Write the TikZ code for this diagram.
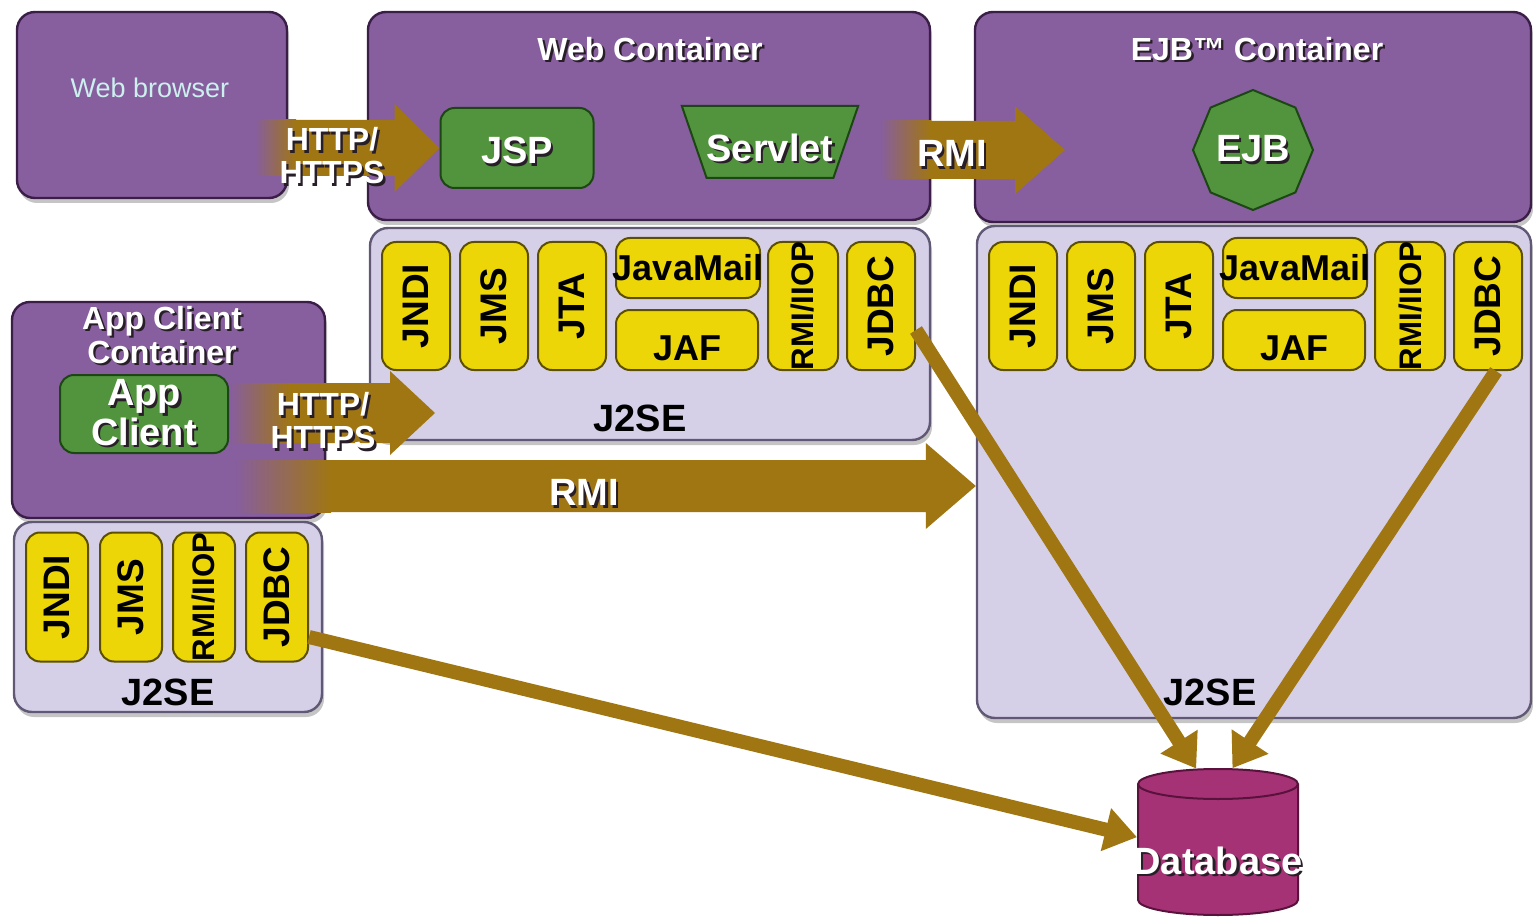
\documentclass[tikz,border=0pt]{standalone}
\usepackage{fontspec}
\setmainfont{Liberation Sans}
\usetikzlibrary{positioning,calc,arrows.meta,shapes.geometric,shadows}

\definecolor{boxpurple}{RGB}{135,94,158}
\definecolor{boxpurpledark}{RGB}{58,30,72}
\definecolor{selavender}{RGB}{214,207,232}
\definecolor{selavenderdark}{RGB}{96,88,116}
\definecolor{apiyellow}{RGB}{236,214,8}
\definecolor{apiyellowdark}{RGB}{92,80,0}
\definecolor{compgreen}{RGB}{82,148,62}
\definecolor{compgreendark}{RGB}{28,70,20}
\definecolor{arrowbrown}{RGB}{160,118,18}
\definecolor{dbmagenta}{RGB}{166,50,118}
\definecolor{dbmagentadark}{RGB}{88,18,60}
\definecolor{browsertext}{RGB}{204,240,238}
\definecolor{shadowc}{RGB}{40,30,40}

\newcommand\shtxt[1]{\leavevmode\rlap{\kern1.2pt\raisebox{-1.2pt}{\color{shadowc}#1}}#1}
% fat arrow: start, tip, body half, head half, head length, fade length
\newcommand\fatarrow[6]{%
  \shade[left color=boxpurple, right color=arrowbrown] ($(#1)+(0,-#3)$) rectangle ($(#1)+(#6+1,#3)$);
  \fill[arrowfill] ($(#1)+(#6,-#3)$) -- ($(#2)+(-#5,-#3)$) -- ($(#2)+(-#5,-#4)$)
    -- (#2) -- ($(#2)+(-#5,#4)$) -- ($(#2)+(-#5,#3)$) -- ($(#1)+(#6,#3)$) -- cycle;}

\tikzset{
  container/.style={draw=boxpurpledark, line width=1.2pt, fill=boxpurple, rounded corners=9pt,
    drop shadow={shadow xshift=1pt, shadow yshift=-2.5pt, opacity=0.45}},
  j2se/.style={draw=selavenderdark, line width=1.2pt, fill=selavender, rounded corners=9pt,
    drop shadow={shadow xshift=1pt, shadow yshift=-2.5pt, opacity=0.45}},
  api/.style={draw=apiyellowdark, line width=1pt, fill=apiyellow, rounded corners=7pt, inner sep=0pt,
    font=\bfseries\fontsize{18.5}{20}\selectfont},
  comp/.style={draw=compgreendark, line width=1pt, fill=compgreen, text=white, inner sep=0pt,
    font=\bfseries\fontsize{19}{18.5}\selectfont},
  title/.style={text=white, align=center, font=\bfseries\fontsize{16}{16}\selectfont},
  lbl/.style={font=\bfseries\fontsize{19}{19}\selectfont},
  arrowlbl/.style={text=white, align=center, font=\bfseries\fontsize{16}{16.5}\selectfont},
  arrowfill/.style={fill=arrowbrown},
  dbline/.style={draw=arrowbrown, line width=7pt, -{Triangle[length=16pt,width=21pt]}},
}

\begin{document}
\begin{tikzpicture}[x=0.5pt, y=-0.5pt]
  \fill[white] (0,0) rectangle (1533,920);
  \useasboundingbox (0,0) rectangle (1533,920);

  \node[container, minimum width=135pt, minimum height=93pt] (browser) at (152,105) {};
  \node[container, minimum width=281pt, minimum height=104pt] (webc) at (649,116) {};
  \node[j2se, minimum width=280pt, minimum height=106pt] (webse) at (650,334) {};
  \node[container, minimum width=278pt, minimum height=105pt] (ejbc) at (1253,117) {};
  \node[j2se, minimum width=277pt, minimum height=246pt] (ejbse) at (1254,472) {};
  \node[container, minimum width=156.5pt, minimum height=108pt] (appc) at (168.5,410) {};
  \node[j2se, minimum width=154pt, minimum height=95pt] (appse) at (168,617) {};

  \node[text=browsertext, font=\fontsize{13.5}{14}\selectfont] (browsertxt) at (150,88) {Web browser};
  \node[title] (webtitle) at (650,50) {\shtxt{Web Container}};
  \node[title] (ejbtitle) at (1257,50) {\shtxt{EJB™ Container}};
  \node[title] (apptitle) at (162,336) {\shtxt{App Client}\\\shtxt{Container}};
  \node[lbl] (webselbl) at (640,418) {J2SE};
  \node[lbl] (ejbselbl) at (1210,692) {J2SE};
  \node[lbl] (appselbl) at (168,692) {J2SE};

  \node[comp, rounded corners=7pt, minimum width=76.5pt, minimum height=40pt] (jsp) at (517,148) {\raisebox{-8pt}[7pt][7pt]{\shtxt{JSP}}};
  \node[comp, trapezium, trapezium angle=71, shape border rotate=180, inner xsep=0pt, inner ysep=11pt]
    (servlet) at (770,142) {\raisebox{-9.5pt}[7pt][7pt]{\shtxt{Servlet}}};
  \node[comp, regular polygon, regular polygon sides=8, shape border rotate=22.5,
    minimum size=60pt] (ejb) at (1253,150) {\shtxt{EJB}};
  \node[comp, rounded corners=7pt, minimum width=84pt, minimum height=39pt, align=center] (appclient) at (144,414) {\shtxt{App}\\\shtxt{Client}};
  \node[cylinder, shape border rotate=90, aspect=0.25, draw=dbmagentadark, line width=1pt, fill=dbmagenta,
    minimum width=80pt, minimum height=73pt, inner sep=0pt, text=white, font=\bfseries\fontsize{19}{19}\selectfont]
    (db) at (1218,850) {\raisebox{-12pt}[7pt][7pt]{\makebox[60pt]{\shtxt{Database}}}};

  \foreach \p/\dx in {w/0,e/607} {
    \node[api, minimum width=34pt, minimum height=64pt] (\p jndi) at (416+\dx,306) {\rotatebox{90}{JNDI}};
    \node[api, minimum width=34pt, minimum height=64pt] (\p jms) at (494+\dx,306) {\rotatebox{90}{JMS}};
    \node[api, minimum width=34pt, minimum height=64pt] (\p jta) at (572+\dx,306) {\rotatebox{90}{JTA}};
    \node[api, minimum width=72pt, minimum height=30pt, font=\bfseries\fontsize{18}{18}\selectfont] (\p mail) at (688+\dx,268) {\makebox[60pt]{JavaMail}};
    \node[api, minimum width=71pt, minimum height=30pt, font=\bfseries\fontsize{18}{18}\selectfont] (\p jaf) at (687+\dx,340) {\raisebox{-10pt}[0pt][0pt]{JAF}};
    \node[api, minimum width=35pt, minimum height=64pt, font=\bfseries\fontsize{15.6}{16}\selectfont] (\p rmi) at (803+\dx,306) {\rotatebox{90}{\makebox[50pt]{RMI/IIOP}}};
    \node[api, minimum width=34pt, minimum height=64pt] (\p jdbc) at (881+\dx,306) {\rotatebox{90}{JDBC}};
  }
  \foreach \n/\t/\x in {ajndi/JNDI/57, ajms/JMS/131, ajdbc/JDBC/277} {
    \node[api, minimum width=31pt, minimum height=64.5pt] (\n) at (\x,597) {\rotatebox{90}{\t}};
  }
  \node[api, minimum width=31pt, minimum height=64.5pt, font=\bfseries\fontsize{15.6}{16}\selectfont] (armi) at (204,597) {\rotatebox{90}{\makebox[50pt]{RMI/IIOP}}};

  \coordinate (h1s) at (255,148);
  \coordinate (h2s) at (880,150);
  \coordinate (h2e) at (1065,150);
  \coordinate (h3s) at (230,413);
  \coordinate (h3e) at (435,413);
  \coordinate (h4s) at (235,486);
  \coordinate (h4e) at (ejbse.west |- h4s);
  \fatarrow{h1s}{jsp.west}{28}{44}{45}{40}
  \fatarrow{h2s}{h2e}{29}{44}{50}{50}
  \fatarrow{h3s}{h3e}{30}{42}{45}{60}
  \fatarrow{h4s}{h4e}{26}{43}{50}{95}
  \node[arrowlbl] (h1lbl) at (332,157) {\shtxt{HTTP/}\\\shtxt{HTTPS}};
  \node[arrowlbl, font=\bfseries\fontsize{19}{19}\selectfont] (h2lbl) at (952,155) {\shtxt{RMI}};
  \node[arrowlbl] (h3lbl) at (323,422) {\shtxt{HTTP/}\\\shtxt{HTTPS}};
  \node[arrowlbl, font=\bfseries\fontsize{19}{19}\selectfont] (h4lbl) at (584,494) {\shtxt{RMI}};

  \draw[dbline] ([yshift=-12pt]wjdbc.east) -- (db.105);
  \draw[dbline] ([xshift=4pt]ejdbc.south) -- (db.80);
  \draw[dbline] ([yshift=-20pt]ajdbc.east) -- (db.171);
\end{tikzpicture}
\end{document}
